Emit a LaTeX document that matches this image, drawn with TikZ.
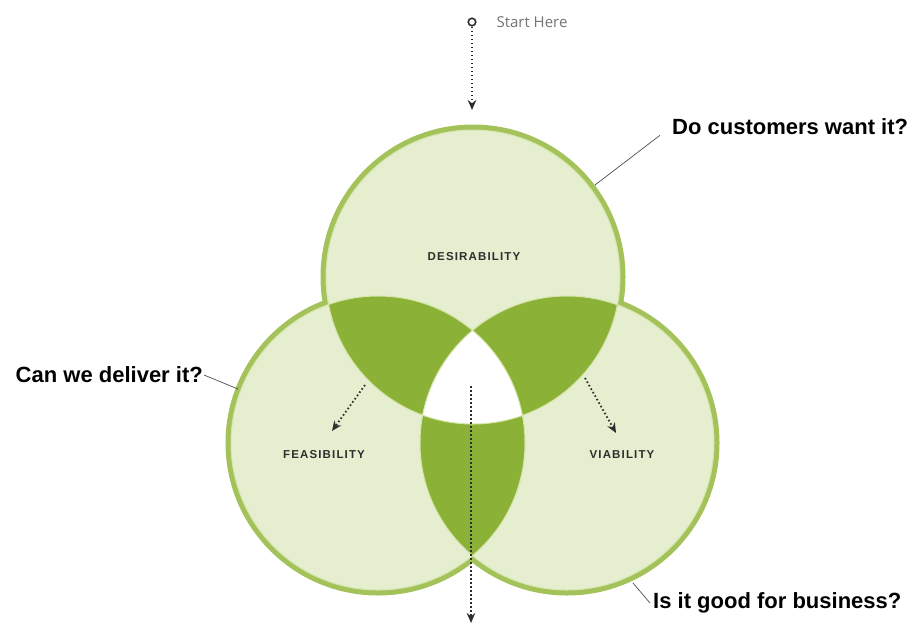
\documentclass[tikz,border=0pt]{standalone}
\usepackage{fontspec}
\usetikzlibrary{arrows.meta}
\newfontfamily\qfont{Liberation Sans}
\newfontfamily\capfont[LetterSpace=10]{Liberation Sans}
\newfontfamily\startfont{Open Sans}
\definecolor{outl}{HTML}{A4C25A}
\definecolor{lite}{HTML}{E6EED0}
\definecolor{dark}{HTML}{8BB137}
\definecolor{pale}{HTML}{D6E5AA}
\definecolor{ink}{HTML}{2E2E2E}
\begin{document}
\begin{tikzpicture}[x=1pt,y=-1pt,
  question/.style={font=\qfont\bfseries\fontsize{22}{26}\selectfont, text=black, inner sep=0pt},
  setlabel/.style={font=\capfont\bfseries\fontsize{11.5}{13}\selectfont, text=ink},
  dotarrow/.style={draw=ink, line width=1.8pt, dash pattern=on 1.6pt off 2.4pt, -{Stealth[length=10pt,width=8.5pt]}},
  leader/.style={draw=ink!85, line width=0.7pt},
  setcircle/.style={radius=147pt}]
\useasboundingbox (0,0) rectangle (915,624);
\coordinate (T) at (473,277);
\coordinate (L) at (378,443);
\coordinate (R) at (567,443);
% outer outlines (inner half gets covered by fills)
\draw[outl, line width=11pt] (T) circle[setcircle] (L) circle[setcircle] (R) circle[setcircle];
\fill[lite] (T) circle[setcircle] (L) circle[setcircle] (R) circle[setcircle];
% pairwise overlaps
\begin{scope}
  \clip (T) circle[setcircle];
  \fill[dark] (L) circle[setcircle] (R) circle[setcircle];
\end{scope}
\begin{scope}
  \clip (L) circle[setcircle];
  \fill[dark] (R) circle[setcircle];
\end{scope}
% triple overlap
\begin{scope}
  \clip (T) circle[setcircle];
  \clip (L) circle[setcircle];
  \fill[white] (R) circle[setcircle];
\end{scope}
\draw[pale, line width=1pt] (T) circle[setcircle] (L) circle[setcircle] (R) circle[setcircle];
% set labels
\node[setlabel] (des) at (474,257) {DESIRABILITY};
\node[setlabel] (fea) at (324,455) {FEASIBILITY};
\node[setlabel] (via) at (622,455) {VIABILITY};
% start
\node[draw=ink, line width=1.6pt, circle, inner sep=0pt, minimum size=7.5pt, fill=white] (start) at (472,22) {};
\node[font=\startfont\fontsize{15}{17}\selectfont, text=black!55, anchor=west] (starttxt) at (493,22) {Start Here};
\coordinate (toptip) at (472,110);
\draw[dotarrow] (start) -- (toptip);
% dotted arrows
\coordinate (la0) at (365,385);
\coordinate (la1) at (332,431);
\coordinate (ra0) at (585,378);
\coordinate (ra1) at (616,433);
\coordinate (ca0) at (471,386);
\coordinate (ca1) at (471,623);
\draw[dotarrow] (la0) -- (la1);
\draw[dotarrow] (ra0) -- (ra1);
\draw[dotarrow] (ca0) -- (ca1);
% questions
\node[question, anchor=west] (qdo) at (672,127) {Do customers want it?};
\node[question, anchor=east] (qcan) at (203,375) {Can we deliver it?};
\node[question, anchor=west] (qbiz) at (653,603) {Is it good for business?};
\coordinate (ct) at (595,185);
\coordinate (cl) at (238,389);
\coordinate (cr) at (633,583);
\draw[leader] (ct) -- ([shift={(-12,0)}]qdo.south west);
\draw[leader] (cl) -- ([xshift=1pt]qcan.east);
\draw[leader] (cr) -- ([xshift=-3pt]qbiz.west);
\end{tikzpicture}
\end{document}
